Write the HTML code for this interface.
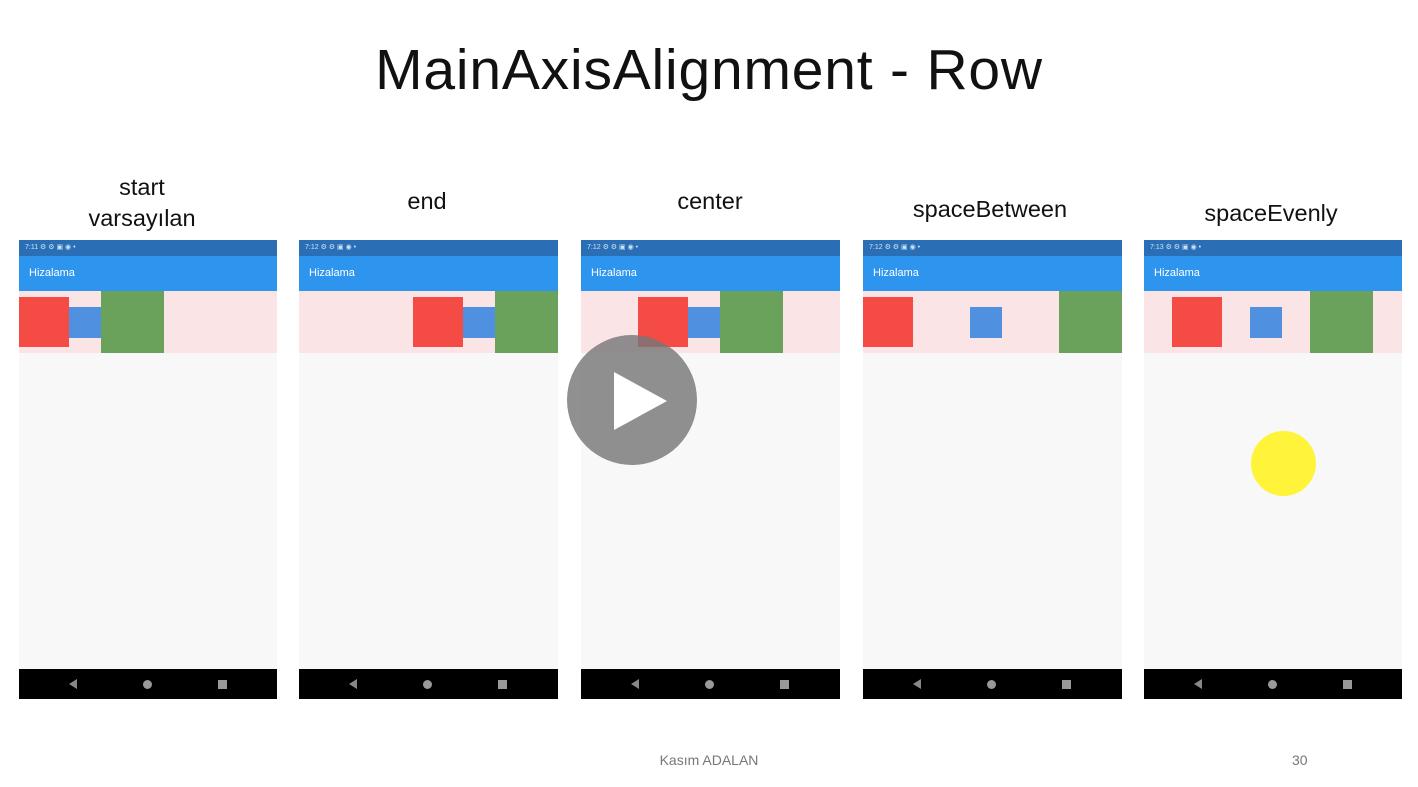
<!DOCTYPE html>
<html><head><meta charset="utf-8"><style>
body{margin:0;width:1418px;height:787px;background:#fff;position:relative;overflow:hidden;font-family:"Liberation Sans",sans-serif}
.a{position:absolute}
.lbl{position:absolute;font-size:23.5px;color:#111;text-align:center;transform:translateX(-50%);white-space:nowrap;line-height:31px}
.ph{position:absolute;top:240px;height:459px;background:#f8f8f8}
.st{position:absolute;left:0;right:0;top:0;height:16px;background:#2a6fb5;color:#cfe3f7;font-size:7px;line-height:16px;padding-left:6px}
.ab{position:absolute;left:0;right:0;top:16px;height:35px;background:#2e95ef;color:#fff;font-size:11px;line-height:35px;padding-left:10px}
.pk{position:absolute;left:0;right:0;top:51px;height:62px;background:#fbe4e6}
.nv{position:absolute;left:0;right:0;bottom:0;height:30px;background:#000}
.r{position:absolute;background:#f44c45;top:57px;width:50px;height:50px}
.b{position:absolute;background:#4f91e0;top:67px;width:32px;height:31px}
.g{position:absolute;background:#6aa25c;top:51px;width:63px;height:62px}
.tri{position:absolute;bottom:10px;width:0;height:0;border-top:5px solid transparent;border-bottom:5px solid transparent;border-right:8px solid #888}
.dot{position:absolute;bottom:10px;width:9px;height:9px;border-radius:50%;background:#999}
.sq{position:absolute;bottom:10px;width:9px;height:9px;background:#999}
</style></head><body>
<div class="a" style="left:0;right:0;top:37px;text-align:center;font-size:57px;color:#111;letter-spacing:0.8px;line-height:66px">MainAxisAlignment - Row</div>
<div class="lbl" style="left:142px;top:172px">start<br>varsayılan</div>
<div class="lbl" style="left:427px;top:186px">end</div>
<div class="lbl" style="left:710px;top:186px">center</div>
<div class="lbl" style="left:990px;top:194px">spaceBetween</div>
<div class="lbl" style="left:1271px;top:198px">spaceEvenly</div>

<div class="ph" style="left:19px;width:258px"><div class="st">7:11 ⚙ ⚙ ▣ ◉ •</div><div class="ab">Hizalama</div><div class="pk"></div>
<div class="r" style="left:0"></div><div class="b" style="left:50px"></div><div class="g" style="left:82px"></div>
<div class="nv"><div class="tri" style="left:50px"></div><div class="dot" style="left:124px"></div><div class="sq" style="left:199px"></div></div></div>

<div class="ph" style="left:299px;width:259px"><div class="st">7:12 ⚙ ⚙ ▣ ◉ •</div><div class="ab">Hizalama</div><div class="pk"></div>
<div class="r" style="left:114px"></div><div class="b" style="left:164px"></div><div class="g" style="left:196px"></div>
<div class="nv"><div class="tri" style="left:50px"></div><div class="dot" style="left:124px"></div><div class="sq" style="left:199px"></div></div></div>

<div class="ph" style="left:581px;width:259px"><div class="st">7:12 ⚙ ⚙ ▣ ◉ •</div><div class="ab">Hizalama</div><div class="pk"></div>
<div class="r" style="left:57px"></div><div class="b" style="left:107px"></div><div class="g" style="left:139px"></div>
<div class="nv"><div class="tri" style="left:50px"></div><div class="dot" style="left:124px"></div><div class="sq" style="left:199px"></div></div></div>

<div class="ph" style="left:863px;width:259px"><div class="st">7:12 ⚙ ⚙ ▣ ◉ •</div><div class="ab">Hizalama</div><div class="pk"></div>
<div class="r" style="left:0"></div><div class="b" style="left:107px"></div><div class="g" style="left:196px"></div>
<div class="nv"><div class="tri" style="left:50px"></div><div class="dot" style="left:124px"></div><div class="sq" style="left:199px"></div></div></div>

<div class="ph" style="left:1144px;width:258px"><div class="st">7:13 ⚙ ⚙ ▣ ◉ •</div><div class="ab">Hizalama</div><div class="pk"></div>
<div class="r" style="left:28px"></div><div class="b" style="left:106px"></div><div class="g" style="left:166px"></div>
<div class="nv"><div class="tri" style="left:50px"></div><div class="dot" style="left:124px"></div><div class="sq" style="left:199px"></div></div></div>

<div class="a" style="left:1251px;top:431px;width:65px;height:65px;border-radius:50%;background:#fff43a"></div>
<div class="a" style="left:567px;top:335px;width:130px;height:130px;border-radius:50%;background:rgba(120,120,120,0.82)"></div>
<div class="a" style="left:614px;top:372px;width:0;height:0;border-top:29px solid transparent;border-bottom:29px solid transparent;border-left:53px solid #fff"></div>

<div class="a" style="left:0;width:1418px;top:752px;text-align:center;font-size:14px;color:#777">Kasım ADALAN</div>
<div class="a" style="left:1292px;top:752px;font-size:14px;color:#777">30</div>
</body></html>
